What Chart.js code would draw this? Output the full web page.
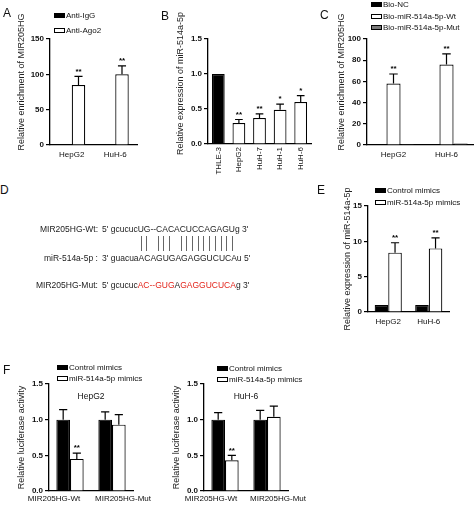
<!DOCTYPE html>
<html><head><meta charset="utf-8">
<script src="https://cdn.jsdelivr.net/npm/chart.js@4.4.1/dist/chart.umd.min.js"></script>
<style>
html,body{margin:0;padding:0;background:#fff;}
body{width:474px;height:505px;position:relative;overflow:hidden;font-family:"Liberation Sans",Arial,sans-serif;color:#1a1a1a;}
canvas{position:absolute;}
.letter{position:absolute;font-size:12px;line-height:12px;color:#111;}
.leg{position:absolute;font-size:8px;white-space:nowrap;color:#111;}
.leg .row{position:absolute;left:0;height:10px;display:flex;align-items:center;}
.leg .box{width:11px;height:5px;box-sizing:border-box;border:1px solid #000;margin-right:1px;}
.dl{position:absolute;font-size:8.5px;line-height:10px;white-space:nowrap;color:#222;will-change:transform;}
.pl{position:absolute;width:1px;background:#666;}
</style></head><body>
<script>
// ---------- DATA ----------
const aCats = ['HepG2','HuH-6'];
const aSeries = ['Anti-IgG','Anti-Ago2'];
const aIgG = [0.8, 0.8];
const aAgo2 = [85, 100];
const aAgo2Sd = [12, 12];
const aStars = ['**','**'];

const bCats = ['THLE-3','HepG2','HuH-7','HuH-1','HuH-6'];
const bVals = [1.0, 0.30, 0.37, 0.49, 0.60];
const bSd = [0, 0.05, 0.06, 0.08, 0.09];
const bStars = ['', '**', '**', '*', '*'];

const cCats = ['HepG2','HuH-6'];
const cSeries = ['Bio-NC','Bio-miR-514a-5p-Wt','Bio-miR-514a-5p-Mut'];
const cNC = [0.4, 0.4];
const cWt = [58, 76];
const cWtSd = [9, 10];
const cMut = [1.0, 1.3];
const cStars = ['**','**'];

const dLabels = ['MIR205HG-Wt:', 'miR-514a-5p :', 'MIR205HG-Mut:'];
const dWtSeq = ["5' gcucuc", "UG--CACACUCCAGAGU", "g 3'"];
const dMirSeq = ["3' guacua", "ACAGUGAGAGGUCUCA", "u 5'"];
const dMutSeq = [["5' gcucuc",0],["AC--GUG",1],["A",0],["GAGGUCUCA",1],["g 3'",0]];
const dPairSlots = [0,1,3,4,5,7,8,9,10,11,12,13,14,15,16];

const eCats = ['HepG2','HuH-6'];
const eSeries = ['Control mimics','miR-514a-5p mimics'];
const eCtrl = [1, 1];
const eMim = [8.4, 9.0];
const eMimSd = [1.4, 1.5];
const eStars = ['**','**'];

const fCats = ['MIR205HG-Wt','MIR205HG-Mut'];
const fSeries = ['Control mimics','miR-514a-5p mimics'];
const fHepCtrl = [1.0, 1.0];
const fHepCtrlSd = [0.14, 0.11];
const fHepMim = [0.45, 0.93];
const fHepMimSd = [0.08, 0.14];
const fHepStars = ['**',''];
const fHuhCtrl = [1.0, 1.0];
const fHuhCtrlSd = [0.10, 0.13];
const fHuhMim = [0.43, 1.04];
const fHuhMimSd = [0.07, 0.15];
const fHuhStars = ['**',''];

// ---------- HELPERS ----------
const FONT = '"Liberation Sans", Arial, sans-serif';
const BLACK = '#000000', WHITE = '#ffffff', GRAY = '#7a7a7a';

const errPlugin = {
  id: 'errbars',
  afterDatasetsDraw(chart) {
    const ctx = chart.ctx, y = chart.scales.y;
    chart.data.datasets.forEach((ds, di) => {
      const meta = chart.getDatasetMeta(di);
      meta.data.forEach((bar, i) => {
        const v = ds.data[i];
        const sd = ds.sd ? ds.sd[i] : 0;
        let top = bar.y;
        if (sd) {
          const yt = y.getPixelForValue(v + sd);
          const w = bar.width * 0.6;
          ctx.save();
          ctx.strokeStyle = '#000'; ctx.lineWidth = 1.2;
          ctx.beginPath();
          ctx.moveTo(bar.x, bar.y); ctx.lineTo(bar.x, yt);
          ctx.moveTo(bar.x - w / 2, yt); ctx.lineTo(bar.x + w / 2, yt);
          ctx.stroke(); ctx.restore();
          top = yt;
        }
        const st = ds.stars ? ds.stars[i] : '';
        if (st) {
          ctx.save();
          ctx.fillStyle = '#000'; ctx.font = 'bold 8px ' + FONT;
          ctx.textAlign = 'center'; ctx.textBaseline = 'bottom';
          ctx.fillText(st, bar.x, top - 1);
          ctx.restore();
        }
      });
    });
  }
};

const extraPlugin = {
  id: 'extra',
  afterDraw(chart) {
    const o = chart.options.plugins.extra || {};
    const ctx = chart.ctx, ca = chart.chartArea;
    if (o.yTitle) {
      ctx.save(); ctx.fillStyle = '#222'; ctx.font = '9px ' + FONT;
      ctx.translate(ca.left - o.yTitleDist, (ca.top + ca.bottom) / 2 + (o.yTitleShift || 0));
      ctx.rotate(-Math.PI / 2);
      ctx.textAlign = 'center'; ctx.textBaseline = 'middle';
      ctx.fillText(o.yTitle, 0, 0);
      ctx.restore();
    }
    if (o.panelTitle) {
      ctx.save(); ctx.fillStyle = '#111'; ctx.font = '8.5px ' + FONT;
      ctx.textAlign = 'center'; ctx.textBaseline = 'middle';
      ctx.fillText(o.panelTitle, (ca.left + ca.right) / 2, ca.top + 13);
      ctx.restore();
    }
    if (o.shiftLabels) {
      const xs = chart.scales.x;
      ctx.save(); ctx.fillStyle = '#111'; ctx.font = '8px ' + FONT;
      ctx.textAlign = 'center'; ctx.textBaseline = 'top';
      chart.data.labels.forEach((lab, i) => {
        ctx.fillText(lab, xs.getPixelForTick(i) + o.shiftLabels[i], ca.bottom + 4);
      });
      ctx.restore();
    }
  }
};

function makeChart(cfg) {
  const c = document.createElement('canvas');
  c.width = cfg.w; c.height = cfg.h;
  c.style.left = cfg.x + 'px'; c.style.top = cfg.y + 'px';
  document.body.appendChild(c);
  const extra = Object.assign({ yTitle: cfg.title, yTitleDist: cfg.titleDist, yTitleShift: cfg.titleShift }, cfg.extra || {});
  return new Chart(c, {
    type: 'bar',
    data: { labels: cfg.labels, datasets: cfg.datasets },
    plugins: [errPlugin, extraPlugin],
    options: {
      responsive: false, animation: false, devicePixelRatio: 1,
      layout: { padding: { top: cfg.padTop, right: cfg.padRight, left: 0, bottom: 0 } },
      datasets: { bar: { categoryPercentage: cfg.catPct, barPercentage: 1.0, borderColor: '#000', borderWidth: 1.2 } },
      plugins: { legend: { display: false }, tooltip: { enabled: false }, extra: extra },
      scales: {
        x: {
          grid: { display: false, drawTicks: false, tickLength: 0 },
          border: { display: true, color: '#000', width: 1.3 },
          ticks: Object.assign({ display: !(cfg.extra && cfg.extra.shiftLabels), color: '#111', font: { size: 8, family: FONT }, padding: 5, autoSkip: false, maxRotation: 0, minRotation: 0 }, cfg.xTicks || {}),
          afterFit(s) { s.height = cfg.xH; }
        },
        y: {
          min: 0, max: cfg.max,
          ticks: { stepSize: cfg.step, color: '#111', font: { size: 8, weight: 'bold', family: FONT }, padding: 2,
                   callback: (v) => Number(v).toFixed(cfg.dec) },
          grid: { display: true, drawOnChartArea: false, drawTicks: true, tickLength: 4, color: '#000', lineWidth: 1.2 },
          border: { display: true, color: '#000', width: 1.3 },
          title: { display: false },
          afterFit(s) { s.width = cfg.yW; }
        }
      }
    }
  });
}

function legend(x, rowsY, names, fills) {
  const d = document.createElement('div');
  d.className = 'leg'; d.style.left = x + 'px'; d.style.top = '0px';
  names.forEach((n, i) => {
    const r = document.createElement('div');
    r.className = 'row'; r.style.top = (rowsY[i] - 5) + 'px';
    const b = document.createElement('span'); b.className = 'box'; b.style.background = fills[i];
    const t = document.createElement('span'); t.textContent = n;
    r.appendChild(b); r.appendChild(t); d.appendChild(r);
  });
  document.body.appendChild(d);
}

function letter(t, x, y) {
  const d = document.createElement('div'); d.className = 'letter';
  d.textContent = t; d.style.left = x + 'px'; d.style.top = y + 'px';
  document.body.appendChild(d);
}

// ---------- PANEL A ----------
makeChart({ x: 0, y: 0, w: 150, h: 170, yW: 50, padTop: 39, xH: 25, padRight: 13, titleDist: 28, titleShift: -10,
  labels: aCats, max: 150, step: 50, dec: 0, catPct: 0.62,
  title: 'Relative enrichment of MIR205HG',
  datasets: [
    { label: aSeries[0], data: aIgG, backgroundColor: BLACK },
    { label: aSeries[1], data: aAgo2, backgroundColor: WHITE, sd: aAgo2Sd, stars: aStars }
  ] });
legend(54, [15, 30], aSeries, [BLACK, WHITE]);
letter('A', 3, 7);

// ---------- PANEL B ----------
makeChart({ x: 150, y: 0, w: 165, h: 185, yW: 58, padTop: 39, xH: 41, padRight: 4, titleDist: 27, titleShift: -8,
  labels: bCats, max: 1.5, step: 0.5, dec: 1, catPct: 0.62,
  xTicks: { maxRotation: 90, minRotation: 90, padding: 3 },
  title: 'Relative expression of miR-514a-5p',
  datasets: [
    { label: 'B', data: bVals, backgroundColor: bCats.map((c, i) => i === 0 ? BLACK : WHITE), sd: bSd, stars: bStars }
  ] });
letter('B', 161, 10);

// ---------- PANEL C ----------
makeChart({ x: 310, y: 0, w: 164, h: 170, yW: 57, padTop: 39, xH: 25, padRight: 1, titleDist: 25, titleShift: -10,
  labels: cCats, max: 100, step: 20, dec: 0, catPct: 0.8,
  title: 'Relative enrichment of MIR205HG',
  datasets: [
    { label: cSeries[0], data: cNC, backgroundColor: BLACK },
    { label: cSeries[1], data: cWt, backgroundColor: WHITE, sd: cWtSd, stars: cStars },
    { label: cSeries[2], data: cMut, backgroundColor: GRAY }
  ] });
legend(371, [4.5, 16, 27.5], cSeries, [BLACK, WHITE, GRAY]);
letter('C', 320, 9);

// ---------- PANEL D ----------
letter('D', 0, 184);
(function () {
  const rowsY = [229, 258, 285];
  dLabels.forEach((t, i) => {
    const d = document.createElement('div'); d.className = 'dl';
    d.style.right = (474 - 98) + 'px'; d.style.top = (rowsY[i] - 5) + 'px'; d.style.textAlign = 'right';
    d.textContent = t; document.body.appendChild(d);
  });
  const seqs = [dWtSeq.map(s => [s, 0]), dMirSeq.map(s => [s, 0]), dMutSeq];
  seqs.forEach((parts, i) => {
    const d = document.createElement('div'); d.className = 'dl';
    d.style.left = '102px'; d.style.top = (rowsY[i] - 5) + 'px';
    parts.forEach(([s, red]) => {
      const sp = document.createElement('span'); sp.textContent = s;
      if (red) sp.style.color = '#e3241b';
      d.appendChild(sp);
    });
    document.body.appendChild(d);
  });
  const m = document.createElement('canvas').getContext('2d');
  m.font = '8.5px ' + FONT;
  const start = 102 + m.measureText(dWtSeq[0]).width;
  const wUp = m.measureText(dWtSeq[1]).width;
  const slot = wUp / dWtSeq[1].length;
  dPairSlots.forEach(k => {
    const l = document.createElement('div'); l.className = 'pl';
    l.style.left = Math.round(start + (k + 0.5) * slot) + 'px';
    l.style.top = '236px'; l.style.height = '15px';
    document.body.appendChild(l);
  });
})();

// ---------- PANEL E ----------
makeChart({ x: 310, y: 170, w: 164, h: 160, yW: 58, padTop: 36, xH: 18, padRight: 25, titleDist: 20, titleShift: 0,
  labels: eCats, max: 15, step: 5, dec: 0, catPct: 0.67,
  title: 'Relative expression of miR-514a-5p',
  datasets: [
    { label: eSeries[0], data: eCtrl, backgroundColor: BLACK },
    { label: eSeries[1], data: eMim, backgroundColor: WHITE, sd: eMimSd, stars: eStars }
  ] });
legend(375, [190, 202], eSeries, [BLACK, WHITE]);
letter('E', 317, 184);

// ---------- PANEL F ----------
makeChart({ x: 0, y: 355, w: 160, h: 150, yW: 49, padTop: 29, xH: 14, padRight: 27, titleDist: 27, titleShift: 0,
  labels: fCats, max: 1.5, step: 0.5, dec: 1, catPct: 0.65,
  title: 'Relative luciferase activity',
  extra: { panelTitle: 'HepG2', shiftLabels: [-16, 11] },
  datasets: [
    { label: fSeries[0], data: fHepCtrl, backgroundColor: BLACK, sd: fHepCtrlSd },
    { label: fSeries[1], data: fHepMim, backgroundColor: WHITE, sd: fHepMimSd, stars: fHepStars }
  ] });
legend(57, [367, 378], fSeries, [BLACK, WHITE]);
makeChart({ x: 160, y: 355, w: 160, h: 150, yW: 44, padTop: 29, xH: 14, padRight: 32, titleDist: 27, titleShift: 0,
  labels: fCats, max: 1.5, step: 0.5, dec: 1, catPct: 0.65,
  title: 'Relative luciferase activity',
  extra: { panelTitle: 'HuH-6', shiftLabels: [-14, 11] },
  datasets: [
    { label: fSeries[0], data: fHuhCtrl, backgroundColor: BLACK, sd: fHuhCtrlSd },
    { label: fSeries[1], data: fHuhMim, backgroundColor: WHITE, sd: fHuhMimSd, stars: fHuhStars }
  ] });
legend(217, [368, 379], fSeries, [BLACK, WHITE]);
letter('F', 3, 364);
</script>
</body></html>
